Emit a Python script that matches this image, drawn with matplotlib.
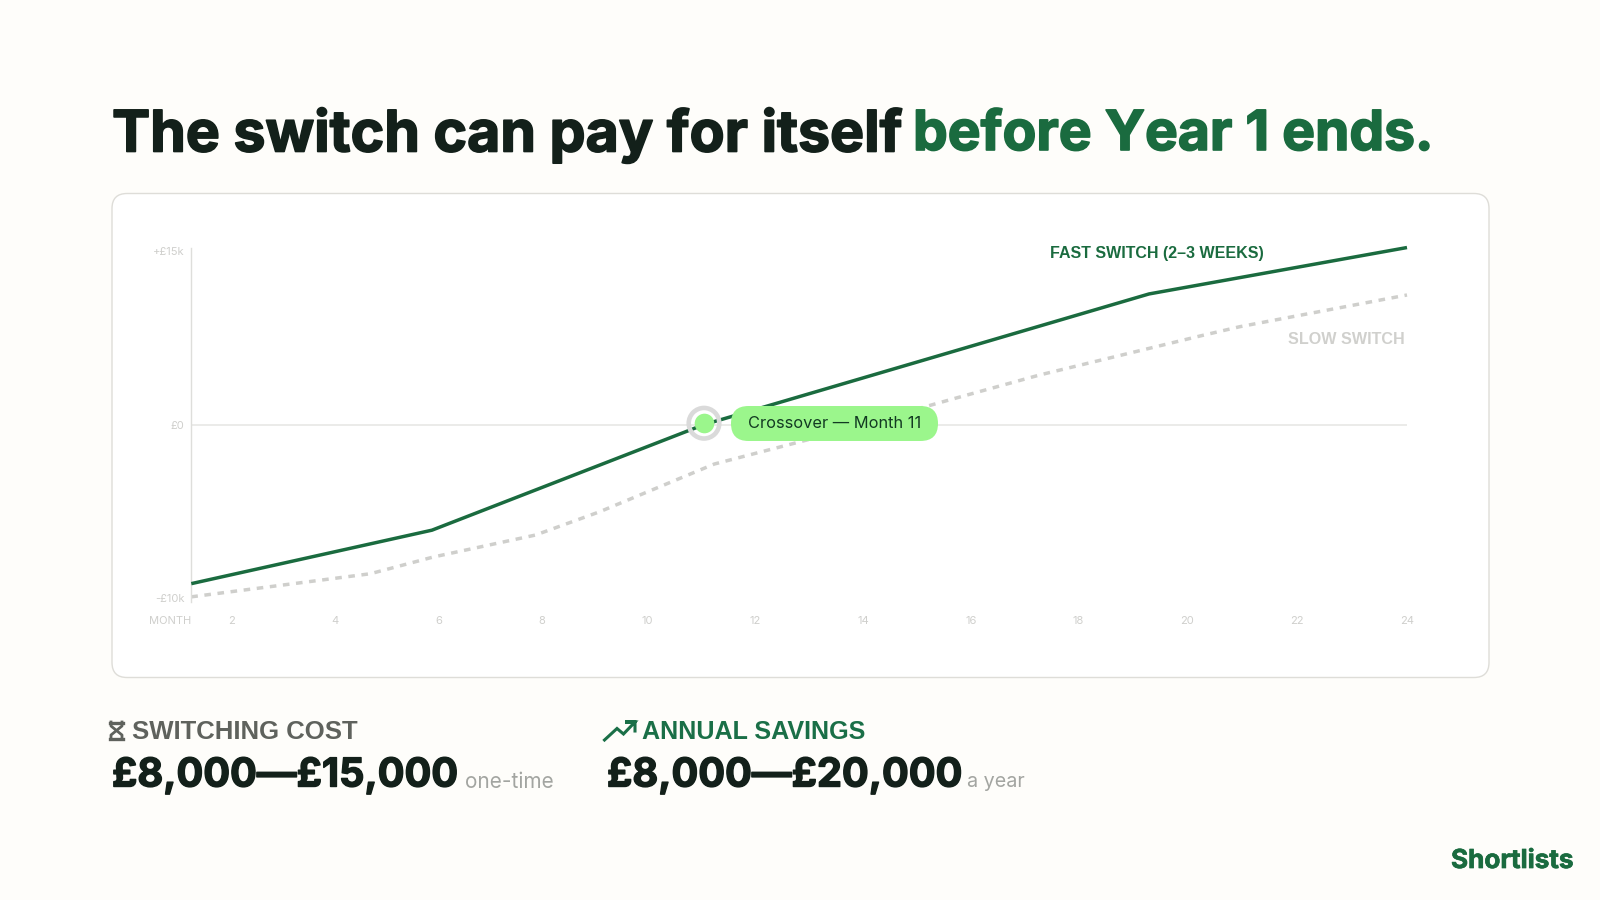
import numpy as np
import matplotlib
matplotlib.use("Agg")
import matplotlib.pyplot as plt
import matplotlib.patheffects as pe
from matplotlib.patches import FancyBboxPatch

# months / value in £k
fast_months = [1, 5.87, 11, 19.3, 24]
fast_values = [-9.16, -6.08, 0, 11.29, 15.3]
slow_months = [1, 4.68, 5.89, 7.88, 9.1, 11.2, 13.0, 15.67, 17.28, 20.24, 20.96, 24]
slow_values = [-9.92, -8.59, -7.63, -6.36, -5.02, -2.27, -0.85, 2.22, 4.29, 7.66, 8.46, 11.2]
crossover_month = 11
month_ticks = [2, 4, 6, 8, 10, 12, 14, 16, 18, 20, 22, 24]
value_ticks = [15, 0, -10]
value_labels = ["+£15k", "£0", "-£10k"]

title_dark = "The switch can pay for itself"
title_green = "before Year 1 ends."

BG = "#FEFDFA"
DARK = "#13201A"
GREEN = "#1A6B3F"
LIME = "#9BF68C"
FAINT = "#CFCFCC"

W, H = 1600, 900
fig = plt.figure(figsize=(16, 9), dpi=100, facecolor=BG)


def pixel_axes(z):
    a = fig.add_axes([0, 0, 1, 1], zorder=z)
    a.set_xlim(0, W)
    a.set_ylim(H, 0)
    a.axis("off")
    return a


def put(a, x, y, s, size, color, weight="normal", family="Inter", ha="left", heavy=0):
    t = a.text(x, y, s, fontsize=size, color=color, fontweight=weight, family=family, ha=ha, va="center")
    if heavy:
        # no extra-bold cut to hand, thicken with a stroke
        t.set_path_effects([pe.withStroke(linewidth=heavy, foreground=color)])
    return t


back = pixel_axes(0)
front = pixel_axes(2)

# card
back.add_patch(FancyBboxPatch((112, 193.5), 1377, 484, boxstyle="round,pad=0,rounding_size=15",
                              fc="white", ec="#DEDDD8", lw=1.0))

# chart, x and y are not evenly spaced in the original so use function scales
left, right, top, bottom = 191.3, 1407, 248, 601.7
ax = fig.add_axes([left / W, 1 - bottom / H, (right - left) / W, (bottom - top) / H], zorder=1)
ax.patch.set_alpha(0)

anchor_m = [1, 2, 4, 6, 8, 10, 11, 12, 14, 16, 18, 20, 22, 24]
anchor_px = [191.3, 231.7, 335, 438.7, 541.7, 647, 704, 755.6, 862.9, 970.7, 1078.5, 1187, 1297, 1407]
ax.set_xscale("function", functions=(lambda m: np.interp(m, anchor_m, anchor_px),
                                     lambda p: np.interp(p, anchor_px, anchor_m)))
ax.set_yscale("function", functions=(lambda v: np.where(np.asarray(v) < 0, np.asarray(v) * 1.5, v),
                                     lambda v: np.where(np.asarray(v) < 0, np.asarray(v) / 1.5, v)))
ax.set_xlim(1, 24)
ax.set_ylim(-10.2, 15.26)

for s in ["top", "right", "bottom"]:
    ax.spines[s].set_visible(False)
ax.spines["left"].set_color("#DEDEDB")
ax.spines["left"].set_linewidth(1.0)
ax.axhline(0, color="#E8E8E5", lw=1.2, zorder=1)

ax.plot(slow_months, slow_values, color="#CFCFCC", lw=2.5, dashes=(1.9, 1.9), zorder=2, clip_on=False)
ax.plot(fast_months, fast_values, color=GREEN, lw=2.5, zorder=3, clip_on=False, solid_capstyle="butt")
ax.scatter([crossover_month], [0.12], s=484, fc="none", ec="#DADADA", lw=3.3, zorder=4, clip_on=False)
ax.scatter([crossover_month], [0.12], s=200, color=LIME, lw=0, zorder=5, clip_on=False)

ax.set_xticks(month_ticks, [str(m) for m in month_ticks], fontsize=8, color=FAINT, family="Inter")
ax.set_yticks(value_ticks, value_labels, fontsize=8, color=FAINT, family="Inter")
ax.minorticks_off()
ax.tick_params(axis="both", length=0)
ax.tick_params(axis="x", pad=10.5)
ax.tick_params(axis="y", pad=5)
put(front, 191, 620.5, "MONTH", 8, FAINT, ha="right")

# pill
front.add_patch(FancyBboxPatch((731, 406), 207, 35, boxstyle="round,pad=0,rounding_size=17.5", fc=LIME, ec="none"))
put(front, 835, 423.5, "Crossover — Month 11", 11.8, "#123A22", ha="center")

put(front, 1050, 253.5, "FAST SWITCH (2–3 WEEKS)", 11.5, GREEN, "bold", "Liberation Sans")
put(front, 1405, 340, "SLOW SWITCH", 11.6, "#D0D0CD", "bold", "Liberation Sans", ha="right")

# title in two colours
put(front, 112, 135, title_dark, 41.2, DARK, "bold", heavy=1.2)
put(front, 913, 135, title_green, 39.7, GREEN, "bold", heavy=1.2)

# stats
put(front, 132, 732, "SWITCHING COST", 18.5, "#5F625D", "bold", "Liberation Sans")
put(front, 641.5, 732, "ANNUAL SAVINGS", 18.1, "#1A6F47", "bold", "Liberation Sans")
put(front, 112, 776, "£8,000—£15,000", 28.6, DARK, "bold", heavy=1.0)
put(front, 607, 776, "£8,000—£20,000", 28.6, DARK, "bold", heavy=1.0)
put(front, 465, 782, "one-time", 15, "#A3A5A1")
put(front, 967, 782, "a year", 14.2, "#A3A5A1")

# hourglass icon
hg = "#5F625D"
front.plot([110, 123], [722.5, 722.5], color=hg, lw=2.4)
front.plot([110, 123], [738.5, 738.5], color=hg, lw=2.4)
front.plot([111, 111, 122, 122], [722, 726, 735, 739], color=hg, lw=2)
front.plot([122, 122, 111, 111], [722, 726, 735, 739], color=hg, lw=2)

# trending-up icon
front.plot([604.5, 617, 623.5, 635, 625, 635, 635], [740, 728.5, 734, 722, 722, 722, 731],
           color="#1A6F47", lw=2.2, solid_joinstyle="miter")

put(front, 1451, 861, "Shortlists", 18.8, GREEN, "bold", heavy=0.5)

fig.savefig("out.png", dpi=100, facecolor=BG)
